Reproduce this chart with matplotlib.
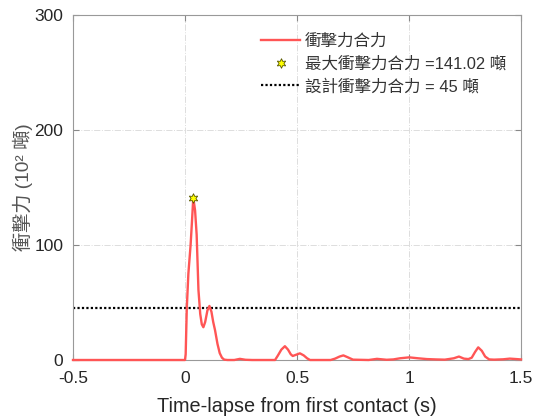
import matplotlib
matplotlib.use("Agg")
import matplotlib.pyplot as plt
import numpy as np

plt.rcParams['font.family'] = ['Liberation Sans', 'Noto Sans CJK TC', 'DejaVu Sans']

# resultant impact force (10^2 ton) vs time since first contact (s)
t = [-0.5, 0.0, 0.003, 0.008, 0.015, 0.025, 0.031, 0.037, 0.045, 0.052, 0.06,
     0.068, 0.075, 0.082, 0.09, 0.1, 0.109, 0.118, 0.126, 0.134, 0.145, 0.155,
     0.165, 0.175, 0.19, 0.22, 0.245, 0.27, 0.3, 0.402, 0.415, 0.43, 0.446,
     0.46, 0.472, 0.481, 0.495, 0.513, 0.53, 0.545, 0.558, 0.65, 0.67, 0.69,
     0.707, 0.725, 0.75, 0.82, 0.857, 0.9, 0.93, 0.96, 1.001, 1.04, 1.08,
     1.12, 1.16, 1.2, 1.223, 1.245, 1.265, 1.28, 1.295, 1.309, 1.325, 1.34,
     1.358, 1.38, 1.42, 1.45, 1.48, 1.5]
force = [0, 0, 5, 45, 75, 100, 120, 141.02, 130, 109, 61,
         40, 31, 28.5, 33, 43, 47, 42, 33, 26, 14, 6,
         2, 0.3, 0, 0, 1.0, 0.2, 0, 0, 4, 9, 12,
         9, 5, 3.5, 4.5, 5.8, 4, 1.5, 0, 0, 1.2, 3,
         4, 2.5, 0.3, 0, 1.0, 0.2, 0.5, 1.5, 2.3, 1.5, 0.8,
         0.5, 0.3, 1.5, 3, 1.2, 0.8, 2, 7, 11, 8, 3,
         0.5, 0.3, 0.6, 1.2, 0.8, 0.5]
peak_t = 0.037
peak_f = 141.02
design_f = 45

xticks = [-0.5, 0, 0.5, 1, 1.5]
xticklabels = ['-0.5', '0', '0.5', '1', '1.5']
yticks = [0, 100, 200, 300]

fig = plt.figure(figsize=(5.36, 4.18), dpi=100)
ax = fig.add_axes([73 / 536, 1 - 360 / 418, 448 / 536, 345 / 418])

ax.plot(t, force, color='#ff5555', lw=1.7, label='衝擊力合力', clip_on=False, zorder=3)
ax.plot([peak_t], [peak_f], linestyle='none', marker=(6, 1, 0), markersize=7,
        markerfacecolor='#ffff00', markeredgecolor='#555500', markeredgewidth=0.6,
        label='最大衝擊力合力 =141.02 噸', zorder=4)
ax.axhline(design_f, color='black', lw=1.6, ls=(0, (1, 1)), label='設計衝擊力合力 = 45 噸')

ax.set_xlim(-0.5, 1.5)
ax.set_ylim(0, 300)
ax.set_xticks(xticks)
ax.set_xticklabels(xticklabels)
ax.set_yticks(yticks)
ax.grid(True, color='#dddddd', ls='-.', lw=0.7)
ax.tick_params(direction='in', length=4, color='#888888', labelsize=12.5,
               labelcolor='#262626', top=True, right=True, pad=7)
ax.tick_params(axis='x', pad=8)
for s in ax.spines.values():
    s.set_color('#999999')
    s.set_linewidth(0.8)

ax.set_xlabel('Time-lapse from first contact (s)', fontsize=14.3, color='#262626', labelpad=8)
ax.set_ylabel('衝擊力 (10² 噸)', fontsize=13.8, color='#555555', labelpad=1)

leg = ax.legend(loc='upper left', bbox_to_anchor=(0.42, 0.945), frameon=False,
                fontsize=11.9, handlelength=2.35, handletextpad=0.3, labelspacing=0.42,
                borderpad=0, borderaxespad=0)
for txt in leg.get_texts():
    txt.set_color('#333333')

fig.savefig('out.png', dpi=100)
